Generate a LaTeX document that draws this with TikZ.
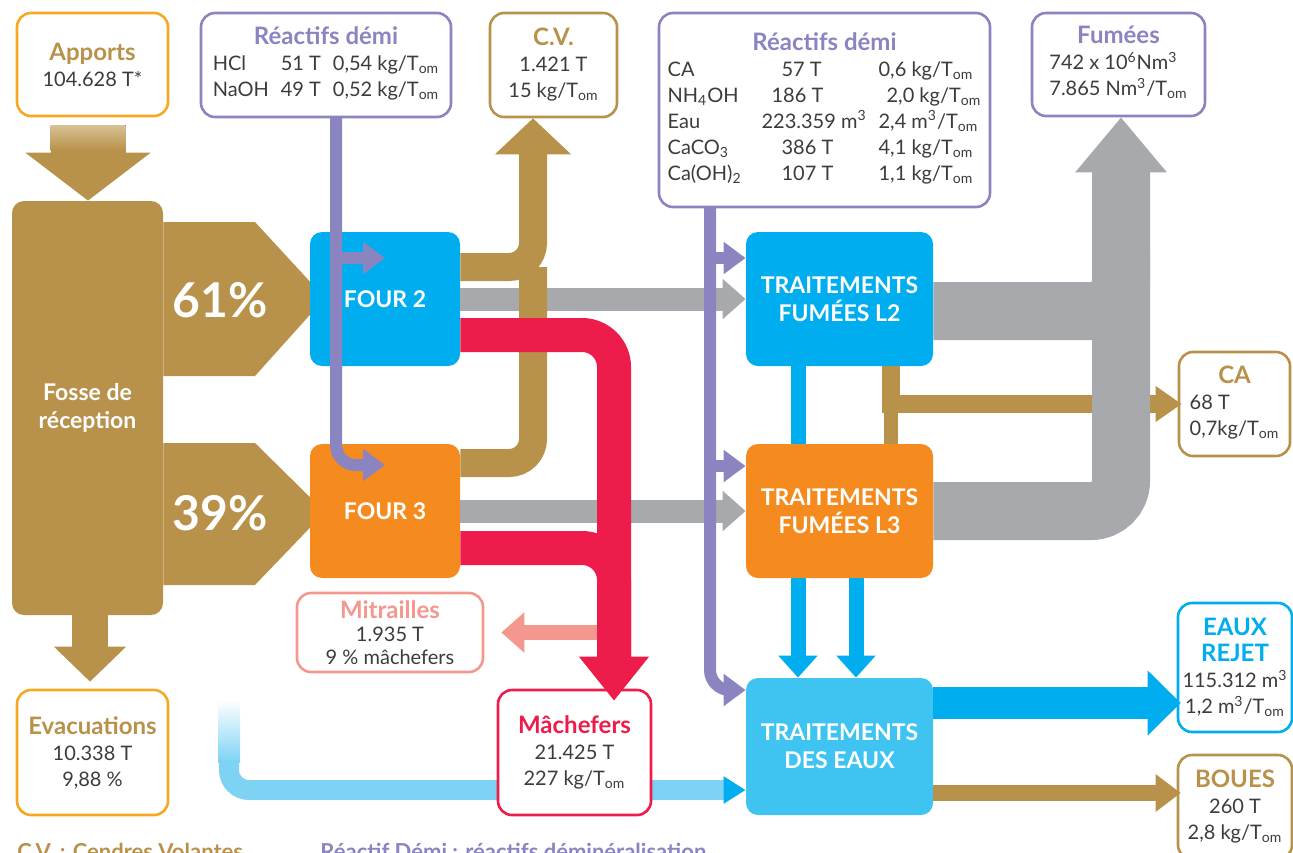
\documentclass[tikz,border=0pt]{standalone}
\usepackage{fontspec}
\setmainfont{Lato}
\usetikzlibrary{arrows.meta,backgrounds}
\definecolor{ocre}{HTML}{B8924A}
\definecolor{ocreclair}{HTML}{D8C195}
\definecolor{orangec}{HTML}{F7A823}
\definecolor{orangef}{HTML}{F58B1F}
\definecolor{bleu}{HTML}{00AEEF}
\definecolor{bleuclair}{HTML}{3FC3F0}
\definecolor{tuyau}{HTML}{7ED3F5}
\definecolor{mauve}{HTML}{8A84C1}
\definecolor{gris}{HTML}{A7A9AC}
\definecolor{rouge}{HTML}{ED1C4A}
\definecolor{rose}{HTML}{F4978E}
\definecolor{texte}{HTML}{3C3C3B}
\newcommand\titre[2]{\textcolor{#1}{\bfseries\fontsize{12}{13}\selectfont #2}}
\newcommand\Tom{T\textsubscript{om}}
\newcommand\cube{\textsuperscript{3}}

\begin{document}
\begin{tikzpicture}[x=0.5pt,y=-0.5pt]
\tikzset{cadre/.style={draw=#1, line width=1.3pt, rounded corners=7pt, fill=white,
  align=center, inner sep=0pt, text=texte, font=\fontsize{10}{13}\selectfont}}
\tikzset{bloc/.style={fill=#1, rounded corners=6pt, text=white, align=center,
  font=\bfseries\fontsize{11.5}{14}\selectfont}}
\tikzset{pointe/.style args={#1/#2}{-{Triangle[width=#1,length=#2]}}}
\useasboundingbox (0,0) rectangle (1293,852);

\node[cadre=orangec, minimum width=75.5pt, minimum height=51.5pt] (apports) at (92.5,64.5)
  {\titre{ocre}{Apports}\\104.628 T*};
\node[cadre=orangec, minimum width=75.5pt, minimum height=62.5pt] (evac) at (92.5,752.5)
  {\titre{ocre}{Evacuations}\\10.338 T\\9,88 \%};
\node[cadre=mauve, minimum width=125pt, minimum height=52pt] (reactL) at (326,65)
  {\begin{tabular}{@{}l@{\hspace{6pt}}r@{\hspace{6pt}}l@{}}
   \multicolumn{3}{c}{\titre{mauve}{Réactifs démi}}\\
   HCl & 51 T & 0,54 kg/\Tom\\
   NaOH & 49 T & 0,52 kg/\Tom
   \end{tabular}};
\node[cadre=ocre, minimum width=63.5pt, minimum height=52pt] (cv) at (553.5,65)
  {\titre{ocre}{C.V.}\\1.421 T\\15 kg/\Tom};
\node[cadre=mauve, minimum width=165.5pt, minimum height=97pt] (reactR) at (824.5,110)
  {\begin{tabular}{@{}l@{\hspace{10pt}}l@{\hspace{6pt}}l@{}}
   \multicolumn{3}{c}{\titre{mauve}{Réactifs démi}}\\
   CA & \hspace{10pt}57 T & 0,6 kg/\Tom\\
   NH\textsubscript{4}OH & \hspace{5pt}186 T & \hspace{4pt}2,0 kg/\Tom\\
   Eau & 223.359 m\cube & 2,4 m\cube/\Tom\\
   CaCO\textsubscript{3} & \hspace{10pt}386 T & 4,1 kg/\Tom\\
   Ca(OH)\textsubscript{2} & \hspace{10pt}107 T & 1,1 kg/\Tom
   \end{tabular}};
\node[cadre=mauve, minimum width=86.5pt, minimum height=51.5pt] (fumees) at (1118.5,64.5)
  {\begin{tabular}{@{}l@{}}
   \multicolumn{1}{@{}c@{}}{\titre{mauve}{Fumées}}\\
   742 x 10\textsuperscript{6}Nm\cube\\
   7.865 Nm\cube/\Tom
   \end{tabular}};
\node[cadre=ocre, minimum width=55.5pt, minimum height=52pt] (ca) at (1234.5,404)
  {\begin{tabular}{@{}l@{}}
   \multicolumn{1}{@{}c@{}}{\titre{ocre}{CA}}\\
   68 T\\
   0,7kg/\Tom
   \end{tabular}};
\node[cadre=bleu, minimum width=57pt, minimum height=64.5pt] (rejet) at (1235,667.5)
  {\titre{bleu}{EAUX}\\\titre{bleu}{REJET}\\115.312 m\cube\\1,2 m\cube/\Tom};
\node[cadre=ocre, minimum width=57pt, minimum height=52pt] (boues) at (1235,807)
  {\titre{ocre}{BOUES}\\260 T\\2,8 kg/\Tom};
\node[cadre=rose, minimum width=93pt, minimum height=39.5pt, font=\fontsize{10}{11.5}\selectfont]
  (mitrailles) at (390,632.5) {\titre{rose}{Mitrailles}\\1.935 T\\9 \% mâchefers};
\node[cadre=rouge, minimum width=76.5pt, minimum height=62.5pt] (machefers) at (574.5,752.5)
  {\titre{rouge}{Mâchefers}\\21.425 T\\227 kg/\Tom};

\node[bloc=ocre, minimum width=75.5pt, minimum height=207pt] (fosse) at (87.5,408) {Fosse de\\réception};
\node[bloc=bleu, minimum width=75pt, minimum height=67pt] (four2) at (385,299) {FOUR 2};
\node[bloc=orangef, minimum width=75pt, minimum height=67pt] (four3) at (385,511) {FOUR 3};
\node[bloc=bleu, minimum width=93.5pt, minimum height=67pt] (tl2) at (839.5,299) {TRAITEMENTS\\FUMÉES L2};
\node[bloc=orangef, minimum width=93.5pt, minimum height=67pt] (tl3) at (839.5,511) {TRAITEMENTS\\FUMÉES L3};
\node[bloc=bleuclair, minimum width=93.5pt, minimum height=68.5pt] (eaux) at (839.5,746.5) {TRAITEMENTS\\DES EAUX};
\node[text=white, font=\bfseries\fontsize{24}{24}\selectfont] (p61) at (220,300) {61\%};
\node[text=white, font=\bfseries\fontsize{24}{24}\selectfont] (p39) at (220,513) {39\%};

\node[anchor=north west, inner sep=0pt, text=ocre, font=\bfseries\fontsize{11}{13}\selectfont]
  (legcv) at (17,843) {C.V. : Cendres Volantes};
\node[anchor=north west, inner sep=0pt, text=mauve, font=\bfseries\fontsize{11}{13}\selectfont]
  (legrd) at (320,843) {Réactif Démi : réactifs déminéralisation};

\coordinate (jcv) at (533,267);
\coordinate (jrouge) at (614,335);
\coordinate (brouge) at (614,660);
\coordinate (jgris) at (1121,311);
\coordinate (hgris) at (1121,250);

\begin{pgfonlayer}{background}
\fill[ocre] (fosse.east |- 0,222) -- (255,222) -- (325,298) -- (255,376) -- (fosse.east |- 0,376) -- cycle;
\fill[ocre] (fosse.east |- 0,443) -- (255,443) -- (325,512) -- (255,585) -- (fosse.east |- 0,585) -- cycle;
\fill[top color=white, bottom color=tuyau] (218,700) rectangle (240,762);
\draw[tuyau, line width=10pt, rounded corners=10pt, -{Triangle[width=13pt,length=11pt,color=bleu]}]
  (229,760) |- (eaux.west |- 0,790);
\end{pgfonlayer}

\draw[ocre, line width=37.5pt, pointe=61.5pt/24pt, shorten <=4.5pt] (apports.south -| 88,0) -- (fosse.north -| 88,0);
\fill[top color=ocreclair, bottom color=ocre] (50.5,125) rectangle (125.5,150);
\draw[ocre, line width=18pt, pointe=35pt/17.5pt, shorten >=3.5pt] (fosse.south -| 90,0) -- (evac.north -| 90,0);

\draw[gris, line width=11.5pt, pointe=19.5pt/11.5pt] (four2) -- (tl2);
\draw[gris, line width=11.5pt, pointe=19.5pt/11.5pt] (four3) -- (tl3);

\draw[ocre, line width=14pt, rounded corners=12pt] (four3.east |- 0,463) -| (jcv);
\draw[ocre, line width=14pt, rounded corners=12pt, pointe=37pt/18pt] (four2.east |- jcv) -| (cv.south -| jcv);

\draw[rose, line width=7.5pt, pointe=19.5pt/11.5pt, shorten >=8.5pt] (jrouge |- mitrailles.east) -- (mitrailles.east);
\draw[rouge, line width=17pt, rounded corners=16pt] (four3.east |- 0,548) -| (brouge);
\draw[rouge, line width=17pt, rounded corners=16pt, pointe=33.5pt/22pt, shorten >=-6pt] (four2.east |- jrouge) -| (machefers.north -| jrouge);

\draw[mauve, line width=6pt, pointe=15.5pt/11pt] (reactL.south -| 336,0) |- (four2.center |- 0,258);
\draw[mauve, line width=6pt, rounded corners=10pt, pointe=15.5pt/11pt] (reactL.south -| 336,0) |- (four3.center |- 0,465);
\draw[mauve, line width=6pt, pointe=15.5pt/11pt] (reactR.south -| 710,0) |- (tl2.west |- 0,258);
\draw[mauve, line width=6pt, pointe=15.5pt/11pt] (reactR.south -| 710,0) |- (tl3.west |- 0,466);
\draw[mauve, line width=6pt, rounded corners=10pt, pointe=15.5pt/11pt] (reactR.south -| 710,0) |- (eaux.west |- 0,690);

\draw[bleu, line width=7.5pt] (tl2.south -| 798,0) -- (tl3.north -| 798,0);
\draw[bleu, line width=7.5pt, pointe=19pt/11pt] (tl3.south -| 798,0) -- (eaux.north -| 798,0);
\draw[bleu, line width=7.5pt, pointe=19pt/11pt] (tl3.south -| 856,0) -- (eaux.north -| 856,0);

\draw[ocre, line width=7pt] (tl2.south -| 891,0) -- (tl3.north -| 891,0);
\draw[ocre, line width=9pt, pointe=17pt/13pt, shorten >=-2pt] (tl2.south -| 891,0) |- (ca.west);

\draw[gris, line width=29pt, rounded corners=15pt] (tl3) -| (hgris);
\draw[gris, line width=29pt, rounded corners=15pt, pointe=44pt/27.5pt] (tl2.east |- jgris) -| (fumees.south -| jgris);

\draw[bleu, line width=16pt, pointe=31.5pt/16.5pt, shorten >=-2pt] (eaux.east |- 0,703) -- (rejet.west |- 0,703);
\draw[ocre, line width=8pt, pointe=18pt/12.5pt, shorten >=-2pt] (eaux.east |- 0,793) -- (boues.west |- 0,793);
\end{tikzpicture}
\end{document}
